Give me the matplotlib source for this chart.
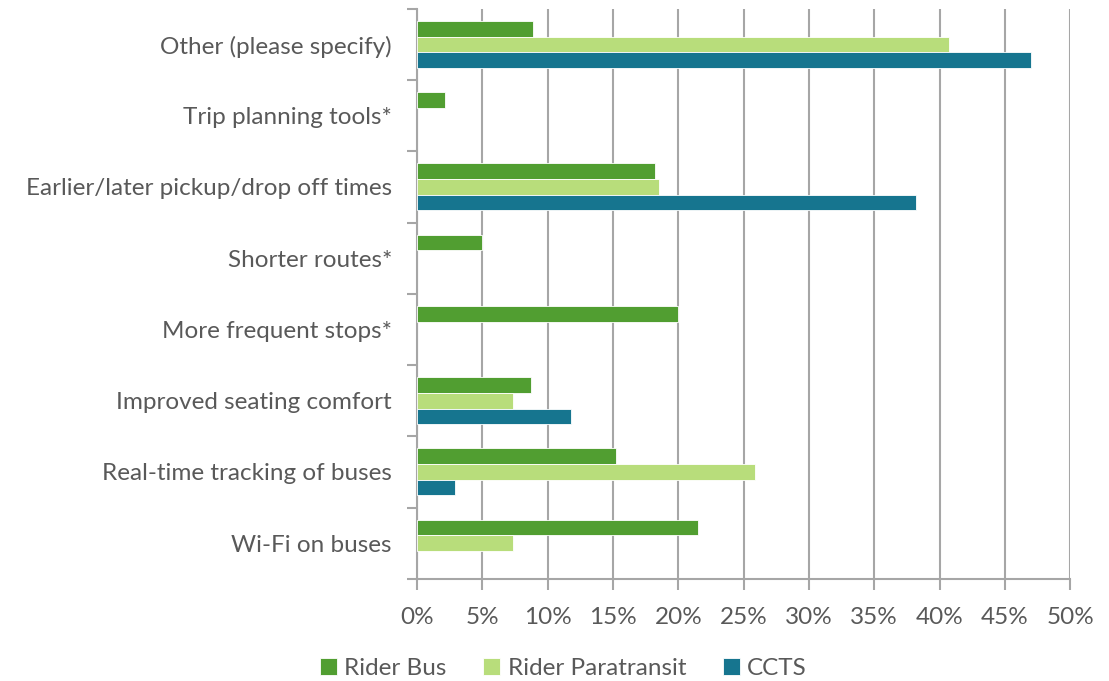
import numpy as np
import matplotlib
matplotlib.use("Agg")
import matplotlib.pyplot as plt
from matplotlib.ticker import PercentFormatter

# categories listed bottom to top
categories = ["Wi-Fi on buses", "Real-time tracking of buses", "Improved seating comfort",
              "More frequent stops*", "Shorter routes*", "Earlier/later pickup/drop off times",
              "Trip planning tools*", "Other (please specify)"]
series = ["Rider Bus", "Rider Paratransit", "CCTS"]
rider_bus = [21.5, 15.25, 8.7, 20.0, 4.95, 18.2, 2.15, 8.9]
rider_paratransit = [7.35, 25.9, 7.35, np.nan, np.nan, 18.5, np.nan, 40.7]
ccts = [np.nan, 2.9, 11.8, np.nan, np.nan, 38.2, np.nan, 47.0]
colors = ["#519E31", "#B8DD7B", "#16758F"]

plt.rcParams['font.family'] = ['Lato', 'DejaVu Sans']
text_col = "#595959"
grid_col = "#A6A6A6"
fs = 17.5

fig = plt.figure(figsize=(11.09, 6.81), dpi=100)
ax = fig.add_axes([0.376, 0.150, 0.589, 0.837])

y = np.arange(len(categories))
h = 0.22
for i, (vals, name) in enumerate(zip([rider_bus, rider_paratransit, ccts], series)):
    ax.barh(y + (1 - i) * h, vals, height=h, color=colors[i], label=name,
            edgecolor="white", linewidth=0.6, zorder=3)

ax.set_xlim(0, 50)
ax.set_ylim(-0.5, len(categories) - 0.5)
ax.set_xticks(np.arange(0, 51, 5))
ax.xaxis.set_major_formatter(PercentFormatter(decimals=0))
ax.set_yticks(y)
ax.set_yticklabels(categories)
ax.set_yticks(np.arange(-0.5, len(categories), 1), minor=True)
ax.tick_params(axis="y", which="major", length=0, pad=18, labelsize=fs, labelcolor=text_col)
ax.tick_params(axis="y", which="minor", length=7, width=1.5, color=grid_col)
ax.tick_params(axis="x", length=8, width=1.5, color=grid_col, labelsize=fs,
               labelcolor=text_col, pad=12)

ax.grid(axis="x", color=grid_col, linewidth=1.5, zorder=0)
for s in ["top", "right"]:
    ax.spines[s].set_visible(False)
for s in ["left", "bottom"]:
    ax.spines[s].set_color(grid_col)
    ax.spines[s].set_linewidth(1.5)

handles, labels = ax.get_legend_handles_labels()
fig.legend(handles, labels, loc="center", bbox_to_anchor=(0.508, 0.018), ncol=3,
           frameon=False, fontsize=fs, labelcolor=text_col, handlelength=0.7,
           handleheight=0.7, handletextpad=0.3, columnspacing=1.5)

fig.savefig("out.png", dpi=100)
